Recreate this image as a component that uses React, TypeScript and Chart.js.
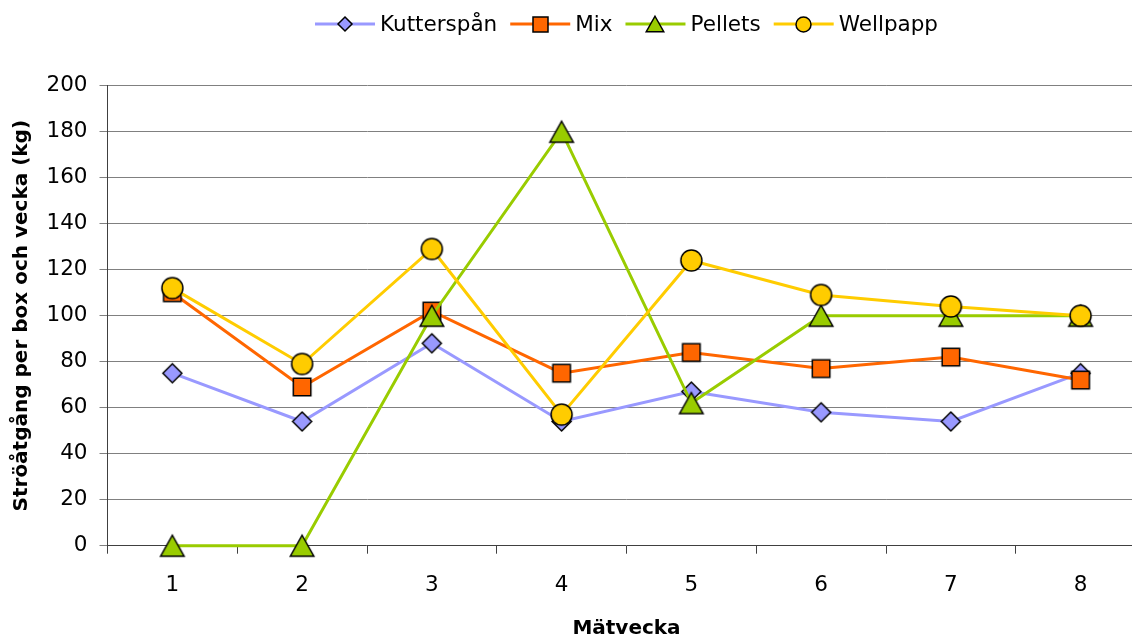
import { useEffect, useRef } from 'react';
import { Chart, registerables } from 'chart.js';

Chart.register(...registerables);

// Measurement weeks and bedding use per box and week (kg)
const weeks = ['1', '2', '3', '4', '5', '6', '7', '8'];
const kutterspan = [75, 54, 88, 54, 67, 58, 54, 75];
const mix = [110, 69, 102, 75, 84, 77, 82, 72];
const pellets = [0, 0, 100, 180, 62, 100, 100, 100];
const wellpapp = [112, 79, 129, 57, 124, 109, 104, 100];

const seriesNames = ['Kutterspån', 'Mix', 'Pellets', 'Wellpapp'];
const seriesColors = ['#9999FF', '#FF6600', '#99CC00', '#FFCC00'];
const seriesShapes = ['diamond', 'square', 'triangle', 'circle'];

const yAxisTitle = 'Ströåtgång per box och vecka (kg)';
const xAxisTitle = 'Mätvecka';

const FONT = '"DejaVu Sans", "Liberation Sans", Arial, sans-serif';
const CANVAS_W = 1150;
const CANVAS_H = 639;

type Shape = 'diamond' | 'square' | 'triangle' | 'circle';

// Builds a small bitmap marker (filled shape with a dark outline) centred in its canvas.
function makeMarker(shape: Shape, fill: string, w: number, h: number): HTMLCanvasElement {
  const pad = 3;
  const c = document.createElement('canvas');
  c.width = Math.ceil(w + pad * 2);
  c.height = Math.ceil(h + pad * 2);
  const g = c.getContext('2d') as CanvasRenderingContext2D;
  const cx = c.width / 2;
  const cy = c.height / 2;
  g.beginPath();
  if (shape === 'diamond') {
    g.moveTo(cx, cy - h / 2);
    g.lineTo(cx + w / 2, cy);
    g.lineTo(cx, cy + h / 2);
    g.lineTo(cx - w / 2, cy);
    g.closePath();
  } else if (shape === 'square') {
    g.rect(cx - w / 2, cy - h / 2, w, h);
  } else if (shape === 'triangle') {
    g.moveTo(cx, cy - h / 2);
    g.lineTo(cx + w / 2, cy + h / 2);
    g.lineTo(cx - w / 2, cy + h / 2);
    g.closePath();
  } else {
    g.arc(cx, cy, w / 2, 0, Math.PI * 2);
    g.closePath();
  }
  g.fillStyle = fill;
  g.fill();
  g.lineWidth = 1.5;
  g.lineJoin = 'miter';
  g.strokeStyle = '#000000';
  g.stroke();
  return c;
}

const plotMarkerSize: Record<Shape, [number, number]> = {
  diamond: [19, 19],
  square: [17.5, 17.5],
  triangle: [23.5, 21],
  circle: [21, 21],
};

const legendMarkerSize: Record<Shape, [number, number]> = {
  diamond: [14, 14],
  square: [15, 15],
  triangle: [17.5, 15.5],
  circle: [15, 15],
};

export default function App() {
  const canvasRef = useRef<HTMLCanvasElement | null>(null);

  useEffect(() => {
    const canvas = canvasRef.current;
    if (!canvas) return;

    const plotMarkers = seriesShapes.map((s, i) =>
      makeMarker(s as Shape, seriesColors[i], plotMarkerSize[s as Shape][0], plotMarkerSize[s as Shape][1])
    );
    const legendMarkers = seriesShapes.map((s, i) =>
      makeMarker(s as Shape, seriesColors[i], legendMarkerSize[s as Shape][0], legendMarkerSize[s as Shape][1])
    );

    // Legend row above the plot: a line sample with its marker, then the series name.
    const lineLegend = {
      id: 'lineLegend',
      afterDraw(chart: any) {
        const { ctx, chartArea } = chart;
        const sampleW = 60;
        const textGap = 5;
        const itemGap = 13;
        const y = 24;
        ctx.save();
        ctx.font = `21.5px ${FONT}`;
        const widths = seriesNames.map((n) => ctx.measureText(n).width);
        const total =
          widths.reduce((a, w) => a + sampleW + textGap + w, 0) + itemGap * (seriesNames.length - 1);
        let x = (chartArea.left + chartArea.right) / 2 - total / 2;
        seriesNames.forEach((name, i) => {
          ctx.strokeStyle = seriesColors[i];
          ctx.lineWidth = 3;
          ctx.beginPath();
          ctx.moveTo(x, y);
          ctx.lineTo(x + sampleW, y);
          ctx.stroke();
          const m = legendMarkers[i];
          ctx.drawImage(m, Math.round(x + sampleW / 2 - m.width / 2), Math.round(y - m.height / 2));
          ctx.fillStyle = '#000000';
          ctx.textAlign = 'left';
          ctx.textBaseline = 'middle';
          ctx.fillText(name, x + sampleW + textGap, y + 1);
          x += sampleW + textGap + widths[i] + itemGap;
        });
        ctx.restore();
      },
    };

    const values = [kutterspan, mix, pellets, wellpapp];

    const chart = new Chart(canvas, {
      type: 'line',
      data: {
        labels: weeks,
        datasets: seriesNames.map((name, i) => ({
          label: name,
          data: values[i],
          borderColor: seriesColors[i],
          backgroundColor: seriesColors[i],
          borderWidth: 3,
          pointStyle: plotMarkers[i] as any,
          pointRadius: 10,
          pointHoverRadius: 10,
          tension: 0,
          fill: false,
          clip: false as any,
          order: seriesNames.length - i,
        })),
      },
      options: {
        animation: false,
        responsive: false,
        devicePixelRatio: 1,
        events: [],
        layout: {
          autoPadding: false,
          padding: { top: 85.7, left: 0, right: CANVAS_W - 1145.5, bottom: 0 },
        },
        plugins: {
          legend: { display: false },
          tooltip: { enabled: false },
          title: { display: false },
        },
        scales: {
          x: {
            type: 'category',
            offset: true,
            afterFit: (scale: any) => {
              scale.height = CANVAS_H - 545.7;
              scale.paddingLeft = 0;
              scale.paddingRight = 0;
            },
            grid: {
              display: true,
              offset: true,
              drawOnChartArea: false,
              drawTicks: true,
              tickLength: 8,
              color: '#404040',
              lineWidth: 1,
            },
            border: { display: true, color: '#404040', width: 1 },
            ticks: {
              color: '#000000',
              font: { family: FONT, size: 21.5, lineHeight: 1.2 },
              padding: 19,
              maxRotation: 0,
            },
            title: {
              display: true,
              text: xAxisTitle,
              color: '#000000',
              font: { family: FONT, size: 20, weight: 'bold', lineHeight: 1.1 },
              padding: { top: 0, bottom: -1 },
            },
          },
          y: {
            type: 'linear',
            min: 0,
            max: 200,
            afterFit: (scale: any) => {
              scale.width = 107.5;
              scale.paddingTop = 0;
              scale.paddingBottom = 0;
            },
            grid: {
              display: true,
              drawTicks: true,
              tickLength: 8,
              color: (c: any) => (c.tick && c.tick.value === 0 ? 'rgba(0,0,0,0)' : '#808080'),
              tickColor: '#808080',
              lineWidth: 1,
            },
            border: { display: true, color: '#404040', width: 1 },
            ticks: {
              stepSize: 20,
              color: '#000000',
              font: { family: FONT, size: 21.5 },
              padding: 12,
            },
            title: {
              display: true,
              text: yAxisTitle,
              color: '#000000',
              font: { family: FONT, size: 20, weight: 'bold', lineHeight: 1.2 },
              padding: { top: 10, bottom: 0 },
            },
          },
        },
      },
      plugins: [lineLegend],
    });

    return () => {
      chart.destroy();
    };
  }, []);

  return (
    <div
      style={{
        position: 'fixed',
        left: 0,
        top: 0,
        width: 1132,
        height: CANVAS_H,
        overflow: 'hidden',
        background: '#ffffff',
      }}
    >
      <canvas
        ref={canvasRef}
        width={CANVAS_W}
        height={CANVAS_H}
        style={{ display: 'block', width: CANVAS_W, height: CANVAS_H }}
      />
    </div>
  );
}
